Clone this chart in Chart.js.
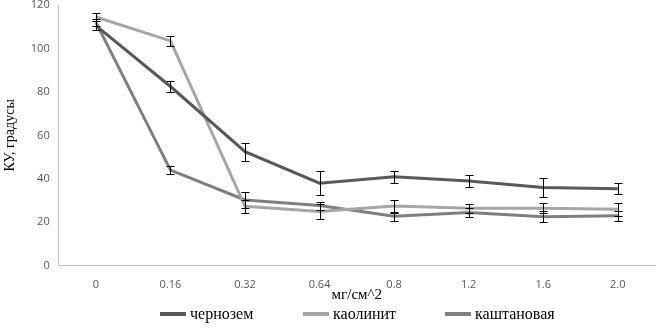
<!DOCTYPE html>
<html>
<head>
<meta charset="utf-8">
<script src="https://cdn.jsdelivr.net/npm/chart.js@4/dist/chart.umd.min.js"></script>
<style>
  html, body { margin: 0; padding: 0; background: #fff; }
  #wrap { width: 662px; height: 328px; }
</style>
</head>
<body>
<div id="wrap"><canvas id="chart"></canvas></div>
<script>
const doses = ['0', '0.16', '0.32', '0.64', '0.8', '1.2', '1.6', '2.0'];

const chernozem = [110.5, 82.5, 52.5, 38, 41, 39, 36, 35.5];
const chernozemErr = [2, 2.5, 4.2, 5.6, 2.8, 2.9, 4.3, 2.5];

const kaolinite = [114.5, 103.5, 27.4, 25, 27.5, 26.5, 26.5, 26];
const kaoliniteErr = [1.8, 2.2, 3, 3.3, 3, 2, 2.3, 3];

const kashtan = [112, 44, 30.3, 27.7, 22.8, 24.5, 22.6, 23];
const kashtanErr = [1.5, 1.8, 3.7, 1.8, 2, 2.2, 2.6, 2.3];

const seriesNames = ['чернозем', 'каолинит', 'каштановая'];
const seriesColors = ['#595959', '#a6a6a6', '#7f7f7f'];

const errorBars = {
  id: 'errorBars',
  afterDatasetsDraw(chart) {
    const { ctx, scales: { y } } = chart;
    ctx.save();
    ctx.strokeStyle = '#000';
    ctx.lineWidth = 1;
    chart.data.datasets.forEach((ds, i) => {
      const meta = chart.getDatasetMeta(i);
      meta.data.forEach((pt, j) => {
        const e = ds.errors[j];
        const v = ds.data[j];
        const top = Math.round(y.getPixelForValue(v + e)) + 0.5;
        const bot = Math.round(y.getPixelForValue(v - e)) + 0.5;
        const x = Math.round(pt.x) + 0.5;
        ctx.beginPath();
        ctx.moveTo(x, top); ctx.lineTo(x, bot);
        ctx.moveTo(x - 4, top); ctx.lineTo(x + 4, top);
        ctx.moveTo(x - 4, bot); ctx.lineTo(x + 4, bot);
        ctx.stroke();
      });
    });
    ctx.restore();
  },
};

// legend under the axis title, like the spreadsheet one
const bottomLegend = {
  id: 'bottomLegend',
  afterDraw(chart) {
    const { ctx } = chart;
    const starts = [160, 303, 445];
    const yMid = 314;
    ctx.save();
    ctx.font = '16px "Liberation Serif", "Times New Roman", serif';
    ctx.textBaseline = 'middle';
    chart.data.datasets.forEach((ds, i) => {
      ctx.fillStyle = ds.borderColor;
      ctx.fillRect(starts[i], yMid - 2, 26, 4);
      ctx.fillStyle = '#000';
      ctx.fillText(ds.label, starts[i] + 30, yMid + 1);
    });
    ctx.restore();
  },
};

const makeSet = (label, data, errors, color) => ({
  label,
  data,
  errors,
  borderColor: color,
  backgroundColor: color,
  borderWidth: 3,
  pointRadius: 0,
  tension: 0,
});

new Chart(document.getElementById('chart'), {
  type: 'line',
  data: {
    labels: doses,
    datasets: [
      makeSet(seriesNames[0], chernozem, chernozemErr, seriesColors[0]),
      makeSet(seriesNames[1], kaolinite, kaoliniteErr, seriesColors[1]),
      makeSet(seriesNames[2], kashtan, kashtanErr, seriesColors[2]),
    ],
  },
  options: {
    responsive: true,
    maintainAspectRatio: false,
    animation: false,
    layout: { padding: { left: 2, right: 7, top: 0, bottom: 24 } },
    plugins: {
      legend: { display: false },
      tooltip: { enabled: false },
    },
    scales: {
      x: {
        offset: true,
        grid: { display: false, drawTicks: false },
        border: { color: '#bfbfbf', width: 1 },
        ticks: {
          color: '#595959',
          padding: 12,
          font: { family: '"Open Sans", sans-serif', size: 11 },
        },
        title: {
          display: true,
          text: 'мг/см^2',
          color: '#000',
          padding: { top: -17, bottom: 0 },
          font: { family: '"Liberation Serif", serif', size: 15 },
        },
      },
      y: {
        min: 0,
        max: 120,
        grid: { display: false, drawTicks: false },
        border: { color: '#bfbfbf', width: 1 },
        afterFit: (scale) => {
          scale.paddingTop = 5;
          scale.paddingBottom = 6;
        },
        ticks: {
          stepSize: 20,
          color: '#595959',
          padding: 9,
          font: { family: '"Open Sans", sans-serif', size: 11 },
        },
        title: {
          display: true,
          text: 'КУ, градусы',
          color: '#000',
          padding: { top: 0, bottom: 3 },
          font: { family: '"Liberation Serif", serif', size: 14 },
        },
      },
    },
  },
  plugins: [errorBars, bottomLegend],
});
</script>
</body>
</html>
